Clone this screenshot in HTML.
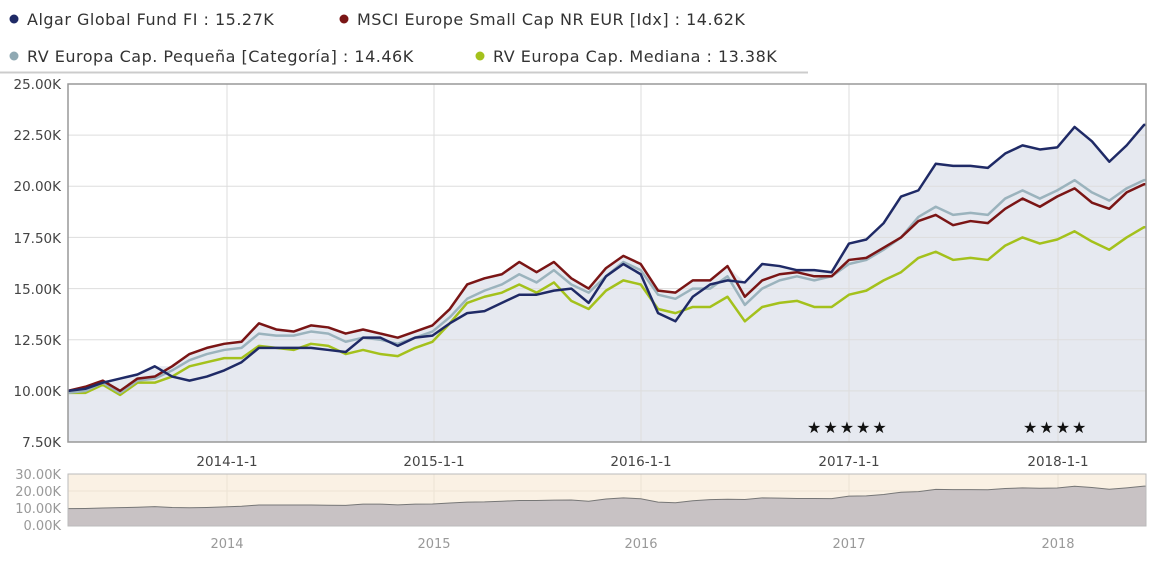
<!DOCTYPE html><html><head><meta charset="utf-8"><style>
body{margin:0;background:#fff;font-family:"DejaVu Sans",sans-serif;}
</style></head><body>
<svg id="s" width="1152" height="562" xmlns="http://www.w3.org/2000/svg" font-family="DejaVu Sans, Verdana, sans-serif">
<rect width="1152" height="562" fill="#fff"/>
<g font-size="16" fill="#333" letter-spacing="0.5">
<circle cx="14" cy="19" r="4.5" fill="#1f2a66"/><text x="27" y="25">Algar Global Fund FI : 15.27K</text>
<circle cx="344" cy="19" r="4.5" fill="#7a1515"/><text x="357" y="25">MSCI Europe Small Cap NR EUR [Idx] : 14.62K</text>
<circle cx="14" cy="56" r="4.5" fill="#8fa9b3"/><text x="27" y="62">RV Europa Cap. Pequeña [Categoría] : 14.46K</text>
<circle cx="480" cy="56" r="4.5" fill="#a4c11c"/><text x="493" y="62">RV Europa Cap. Mediana : 13.38K</text>
</g>
<line x1="0" y1="72.5" x2="808" y2="72.5" stroke="#ccc" stroke-width="2"/>
<g id="main"></g>
<g font-size="13.5" fill="#444" text-anchor="end">
<text x="61" y="89">25.00K</text><text x="61" y="140">22.50K</text><text x="61" y="191">20.00K</text><text x="61" y="243">17.50K</text><text x="61" y="294">15.00K</text><text x="61" y="345">12.50K</text><text x="61" y="396">10.00K</text><text x="61" y="447">7.50K</text>
</g>
<g font-size="13.5" fill="#444" text-anchor="middle">
<text x="227" y="466">2014-1-1</text><text x="434" y="466">2015-1-1</text><text x="641" y="466">2016-1-1</text><text x="849" y="466">2017-1-1</text><text x="1058" y="466">2018-1-1</text>
</g>
<g font-size="16" fill="#111" letter-spacing="2"><text x="807" y="433">★★★★★</text><text x="1023" y="433">★★★★</text></g>
<rect x="68" y="474" width="1078" height="52" fill="#faf1e4" stroke="#ccc"/>
<g id="nav"></g>
<g font-size="13" fill="#999" text-anchor="end">
<text x="61" y="479">30.00K</text><text x="61" y="496">20.00K</text><text x="61" y="513">10.00K</text><text x="61" y="530">0.00K</text>
</g>
<g font-size="13" fill="#999" text-anchor="middle">
<text x="227" y="548">2014</text><text x="434" y="548">2015</text><text x="641" y="548">2016</text><text x="849" y="548">2017</text><text x="1058" y="548">2018</text>
</g>
</svg>
<script>
var A=[10.0,10.1,10.4,10.6,10.8,11.2,10.7,10.5,10.7,11.0,11.4,12.1,12.1,12.1,12.1,12.0,11.9,12.6,12.6,12.2,12.6,12.7,13.3,13.8,13.9,14.3,14.7,14.7,14.9,15.0,14.3,15.6,16.2,15.7,13.8,13.4,14.6,15.2,15.4,15.3,16.2,16.1,15.9,15.9,15.8,17.2,17.4,18.2,19.5,19.8,21.1,21.0,21.0,20.9,21.6,22.0,21.8,21.9,22.9,22.2,21.2,22.0,23.0];
var M=[10.0,10.2,10.5,10.0,10.6,10.7,11.2,11.8,12.1,12.3,12.4,13.3,13.0,12.9,13.2,13.1,12.8,13.0,12.8,12.6,12.9,13.2,14.0,15.2,15.5,15.7,16.3,15.8,16.3,15.5,15.0,16.0,16.6,16.2,14.9,14.8,15.4,15.4,16.1,14.6,15.4,15.7,15.8,15.6,15.6,16.4,16.5,17.0,17.5,18.3,18.6,18.1,18.3,18.2,18.9,19.4,19.0,19.5,19.9,19.2,18.9,19.7,20.1];
var G=[9.9,10.0,10.4,9.9,10.5,10.6,11.0,11.5,11.8,12.0,12.1,12.8,12.7,12.7,12.9,12.8,12.4,12.6,12.5,12.3,12.6,12.9,13.6,14.5,14.9,15.2,15.7,15.3,15.9,15.2,14.8,15.6,16.3,15.9,14.7,14.5,15.0,15.0,15.6,14.2,15.0,15.4,15.6,15.4,15.6,16.2,16.4,16.9,17.5,18.5,19.0,18.6,18.7,18.6,19.4,19.8,19.4,19.8,20.3,19.7,19.3,19.9,20.3];
var V=[9.9,9.9,10.3,9.8,10.4,10.4,10.7,11.2,11.4,11.6,11.6,12.2,12.1,12.0,12.3,12.2,11.8,12.0,11.8,11.7,12.1,12.4,13.3,14.3,14.6,14.8,15.2,14.8,15.3,14.4,14.0,14.9,15.4,15.2,14.0,13.8,14.1,14.1,14.6,13.4,14.1,14.3,14.4,14.1,14.1,14.7,14.9,15.4,15.8,16.5,16.8,16.4,16.5,16.4,17.1,17.5,17.2,17.4,17.8,17.3,16.9,17.5,18.0];
var ns="http://www.w3.org/2000/svg",x0=68,x1=1146,st=(1144-68)/62;
function X(i){return x0+i*st}function Y(v){return 442-(v-7.5)*358/17.5}
function el(p,t,a){var e=document.createElementNS(ns,t);for(var k in a)e.setAttribute(k,a[k]);p.appendChild(e);return e}
var g=document.getElementById('main');
el(g,'rect',{x:68,y:84,width:1078,height:358,fill:'#fff'});
var mx=A.map(function(v,i){return Math.max(v,M[i],G[i])});
var d='M68,442';mx.forEach(function(v,i){d+='L'+X(i)+','+Y(v)});d+='L1146,'+Y(mx[62])+'L1146,442Z';
el(g,'path',{d:d,fill:'#e6e9f0'});
for(var yv=10;yv<25;yv+=2.5)el(g,'line',{x1:68,x2:1146,y1:Y(yv),y2:Y(yv),stroke:'#ddd'});
[227,434,641,849,1058].forEach(function(x){el(g,'line',{x1:x,x2:x,y1:84,y2:442,stroke:'#ddd'})});
function line(a,c){var d='';a.forEach(function(v,i){d+=(i?'L':'M')+X(i)+','+Y(v)});d+='L1146,'+Y(a[62]);el(g,'path',{d:d,fill:'none',stroke:c,'stroke-width':2.5,'stroke-linejoin':'round'})}
line(V,'#a4c11c');line(G,'#9bb3bd');line(M,'#7a1515');line(A,'#1f2a66');
el(g,'rect',{x:68,y:84,width:1078,height:358,fill:'none',stroke:'#999','stroke-width':1.5});
var n=document.getElementById('nav');
[227,434,641,849,1058].forEach(function(x){el(n,'line',{x1:x,x2:x,y1:474,y2:526,stroke:'#ece3d5'})});
[491,509].forEach(function(y){el(n,'line',{x1:68,x2:1146,y1:y,y2:y,stroke:'#eee4d5'})});
function NY(v){return 526-v*52/30}
var d2='M68,526';A.forEach(function(v,i){d2+='L'+X(i)+','+NY(v)});d2+='L1146,'+NY(23)+'L1146,526Z';
el(n,'path',{d:d2,fill:'#c8c2c4',stroke:'#777','stroke-width':1});
el(n,'rect',{x:68,y:474,width:1078,height:52,fill:'none',stroke:'#bbb'});
</script>
</body></html>
